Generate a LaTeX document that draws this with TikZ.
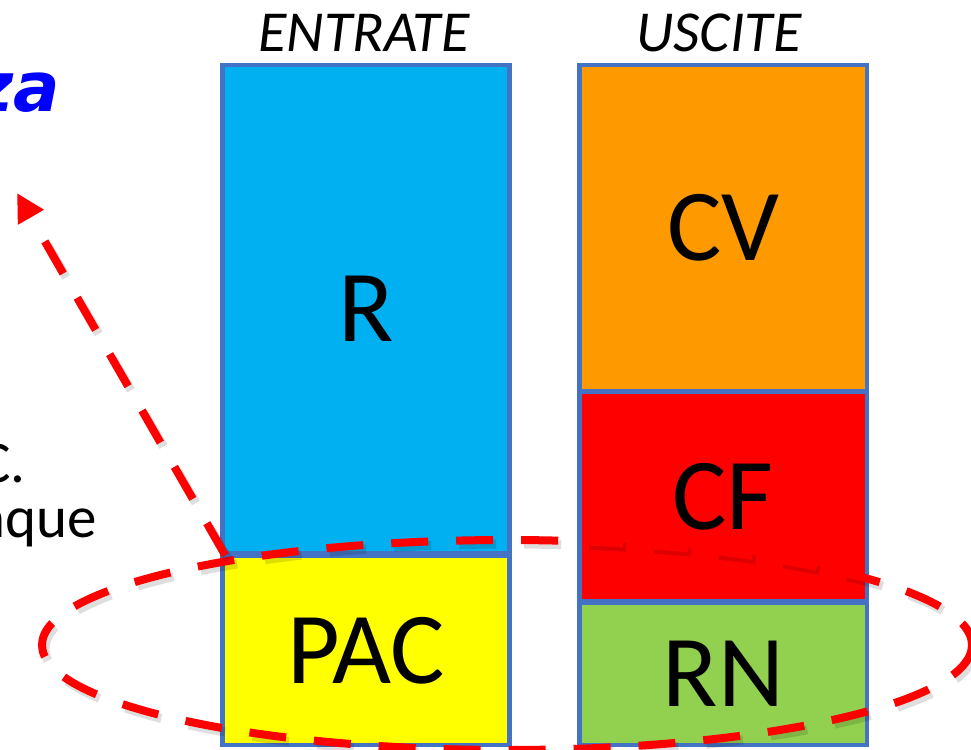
\documentclass[tikz,border=0pt]{standalone}
\usepackage{fontspec}
\setmainfont{Carlito}
\newfontfamily\titlefont{DejaVu Sans}
\usetikzlibrary{arrows.meta,calc}
\definecolor{boxborder}{HTML}{4472C4}
\definecolor{cblue}{HTML}{00B0F0}
\definecolor{cyellow}{HTML}{FFFF00}
\definecolor{corange}{HTML}{FF9900}
\definecolor{cred}{HTML}{FF0000}
\definecolor{cgreen}{HTML}{92D050}
\begin{document}
\begin{tikzpicture}[x=1pt,y=-1pt,
  block/.style={draw=boxborder, line width=4.5pt, inner sep=0pt, minimum width=287pt,
    font=\fontsize{102}{102}\selectfont},
  header/.style={font=\fontsize{58}{58}\selectfont\itshape},
  sidetext/.style={anchor=base east, font=\fontsize{59}{59}\selectfont},
  reddash/.style={draw=cred, line width=8pt, dash pattern=on 37pt off 28pt},
  shadowdash/.style={draw=black, opacity=0.13, line width=9pt, dash pattern=on 37pt off 28pt}
]
\useasboundingbox[fill=white] (0,0) rectangle (971,749);

% title fragment and side text
\node (title) [anchor=base east, text=blue, font=\titlefont\bfseries\itshape\fontsize{69}{69}\selectfont] at (64,112) {za};
\node (side1) [sidetext] at (29,482) {C.};
\node (side2) [sidetext] at (100,537) {nque};

% headers
\node (hin) [header] at (364,33) {ENTRATE};
\node (hout) [header] at (719,33) {USCITE};

% left column
\node (R) [block, fill=cblue, minimum height=488pt] at (366,309) {R};
\node (PAC) [block, fill=cyellow, minimum height=189pt] at (366,650.5) {PAC};

% right column
\node (CV) [block, fill=corange, minimum height=326pt, minimum width=287.5pt] at (723.25,228) {CV};
\node (CF) [block, fill=cred, minimum height=209pt, minimum width=287.5pt] at (723.25,496.5) {CF};
\node (RN) [block, fill=cgreen, minimum height=142pt, minimum width=287.5pt] at (723.25,674) {RN};

% dashed ellipse with soft shadow
\draw[shadowdash] (510,649) ellipse [x radius=465, y radius=105];
\draw[reddash] (507,645) ellipse [x radius=465, y radius=105];

% dashed arrow
\coordinate (tip) at (17,193);
\coordinate (start) at ([xshift=5pt]R.south west);
\draw[shadowdash] ($(start)+(3,4)$) -- ($(start)!0.92!(tip)+(3,4)$);
\draw[reddash, -{Triangle[length=28pt, width=28pt]}] (start) -- (tip);
\end{tikzpicture}
\end{document}
